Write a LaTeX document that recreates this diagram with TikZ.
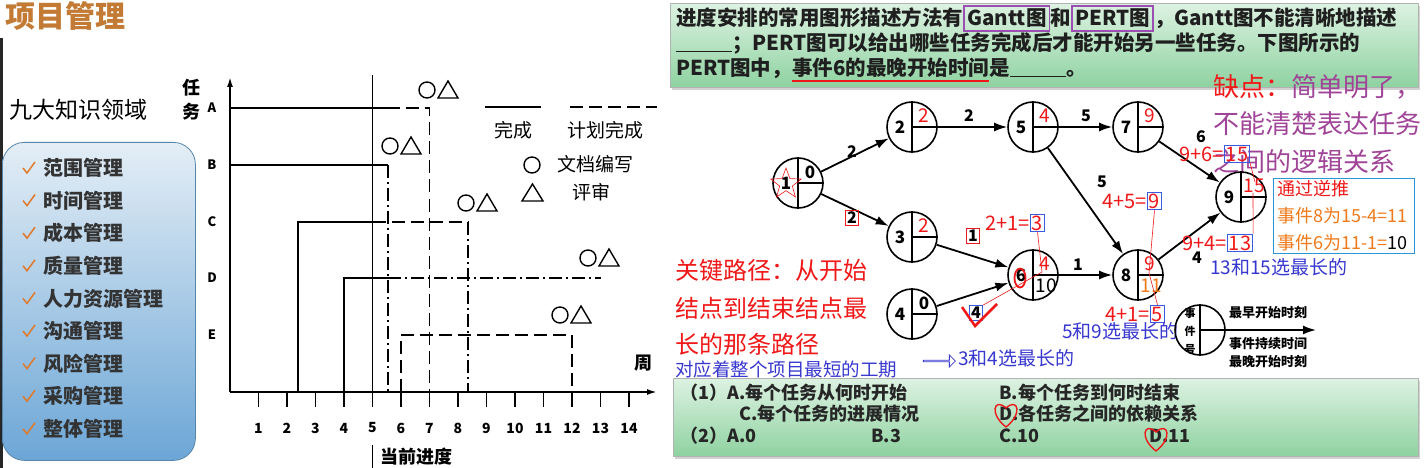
\documentclass[tikz,border=0pt]{standalone}
\usepackage{fontspec}
\setmainfont{Noto Sans CJK SC}
\usetikzlibrary{positioning,arrows.meta,shapes,calc,shadows}
\definecolor{titleorange}{HTML}{C27A34}
\definecolor{listblueT}{HTML}{E4EEF6}
\definecolor{listblueB}{HTML}{6CA6D6}
\definecolor{tickorange}{HTML}{E0792A}
\definecolor{qgreenT}{HTML}{DDF2E2}
\definecolor{qgreenB}{HTML}{8ED2A0}
\definecolor{qpurple}{HTML}{9B4FB0}
\definecolor{markred}{HTML}{F01818}
\definecolor{notepurple}{HTML}{A04498}
\definecolor{noteblue}{HTML}{3838D0}
\definecolor{boxblue}{HTML}{3A5AE0}
\definecolor{backblue}{HTML}{2A96DA}
\definecolor{noteorange}{HTML}{F07A1A}
\tikzstyle{listbox}=[rectangle, rounded corners=22pt, draw=listblueB!80!black, line width=0.8pt,
                     top color=listblueT, bottom color=listblueB]
\tikzstyle{item}=[font=\fontsize{20}{20}\selectfont\bfseries, text=black!80, inner sep=0pt, anchor=west]
\tikzstyle{tickline}=[tickorange, line width=1.5pt]
\tikzstyle{gtxt}=[font=\fontsize{18}{18}\selectfont\bfseries, inner sep=0pt]
\tikzstyle{gabc}=[font=\fontsize{13}{13}\selectfont\bfseries, inner sep=0pt]
\tikzstyle{gnum}=[font=\fontsize{14}{14}\selectfont\bfseries, inner sep=0pt]
\tikzstyle{done}=[line width=1.8pt]
\tikzstyle{plan}=[line width=1.8pt, dash pattern=on 13pt off 6pt]
\tikzstyle{plandot}=[line width=1.8pt, dash pattern=on 13pt off 4pt on 2pt off 4pt]
\tikzstyle{qbox}=[rectangle, draw=gray!60, line width=0.8pt, top color=qgreenT, bottom color=qgreenB,
                  drop shadow={opacity=0.35, shadow xshift=2pt, shadow yshift=-3pt}, inner sep=0pt]
\tikzstyle{qtext}=[font=\fontsize{20.5}{20.5}\selectfont\bfseries, text=black!88, inner sep=0pt]
\tikzstyle{qmark}=[draw=qpurple, line width=1.8pt, inner sep=3pt]
\tikzstyle{evt}=[circle, draw=black, line width=1.6pt, minimum size=50pt, inner sep=0pt]
\tikzstyle{evtnum}=[font=\fontsize{17}{17}\selectfont\bfseries, inner sep=0pt]
\tikzstyle{rednum}=[font=\fontsize{19}{19}\selectfont, text=markred, inner sep=0pt]
\tikzstyle{wline}=[-{Latex[length=13pt,width=9pt]}, line width=1.8pt]
\tikzstyle{wlabel}=[font=\fontsize{16}{16}\selectfont\bfseries, inner sep=1pt]
\tikzstyle{redbox}=[draw=markred, line width=0.8pt, inner sep=1.5pt]
\tikzstyle{bluebox}=[draw=boxblue, line width=0.9pt, inner sep=1.5pt]
\tikzstyle{rednote}=[text=markred, font=\fontsize{20}{20}\selectfont, inner sep=0pt]
\tikzstyle{bluenote}=[text=noteblue, font=\fontsize{19}{19}\selectfont, inner sep=0pt, anchor=west]
\tikzstyle{keynote}=[text=markred, font=\fontsize{24}{24}\selectfont, inner sep=0pt, anchor=west]
\tikzstyle{backnote}=[text=noteorange, font=\fontsize{18}{18}\selectfont, inner sep=0pt, anchor=west]
\tikzstyle{legtxt}=[font=\fontsize{13}{13}\selectfont\bfseries, inner sep=0pt]
\tikzstyle{redlink}=[markred, line width=0.6pt]
\tikzstyle{opt}=[font=\fontsize{18}{18}\selectfont\bfseries, text=black!85, inner sep=0pt, anchor=west]
\tikzstyle{heartline}=[markred, line width=1.4pt]
\tikzset{pics/docrev/.style={code={
  \draw[line width=1.4pt] (-10,0) circle (8pt);
  \draw[line width=1.4pt] (1,8) -- (21,8) -- (11,-9) -- cycle;}}}

\begin{document}
\begin{tikzpicture}[x=1pt,y=-1pt]
\useasboundingbox[fill=white] (0,0) rectangle (1425,468);

% left: knowledge areas
\fill[black!85] (0,38) rectangle (3,468);
\node (TITLE) [anchor=west, inner sep=0pt, text=titleorange, font=\fontsize{30}{30}\selectfont\bfseries] at (5,16) {项目管理};
\node (NINE) [anchor=west, inner sep=0pt, font=\fontsize{23}{23}\selectfont] at (9,110) {九大知识领域};
\node (LIST) [listbox, anchor=north west, minimum width=193pt, minimum height=318pt] at (2,142) {};
\foreach \area [count=\i] in {范围管理,时间管理,成本管理,质量管理,人力资源管理,沟通管理,风险管理,采购管理,整体管理} {
  \node (K\i) [item] at (43,{135.4+32.6*\i}) {\area};
  \draw[tickline] ($(K\i.west)+(-20,0)$) -- ++(4,5) -- ++(8,-11);
}

% gantt chart
\coordinate (O) at (230,392);
\draw[done, -{Latex[length=10pt,width=6pt]}] (O) -- (230,77);
\draw[done, -{Latex[length=10pt,width=6pt]}] (O) -- (657,392);
\foreach \k in {1,...,14} {
  \draw[done] ({230+28.5*\k},392) -- ++(0,15);
  \node (T\k) [gnum] at ({230+28.5*\k},428) {\k};
}
\node (REN) [gtxt] at (191,88) {任};
\node (WU) [gtxt] at (191,112) {务};
\foreach \t/\ry in {A/108,B/165,C/222,D/278,E/335}
  \node (R\t) [gabc] at (212,\ry) {\t};
\node (ZHOU) [gtxt] at (643,363) {周};
\draw[done] (372.5,75) -- (372.5,407);
\draw[done] (372.5,445) -- (372.5,468);
\node (NOW) [gtxt, anchor=west] at (380,457) {当前进度};

% tasks A-E
\draw[done] (230,108) -- (387,108);
\draw[plan] (387,108) -- (429.5,108) -- (429.5,392);
\draw[done] (230,165) -- (388,165);
\draw[plandot] (388,165) -- (388,392);
\draw[done] (298,392) -- (298,222) -- (372.5,222);
\draw[plan] (372.5,222) -- (468,222);
\draw[plandot] (468,222) -- (468,392);
\draw[done] (344,392) -- (344,278) -- (388,278);
\draw[plandot] (388,278) -- (601,278);
\draw[plan] (401,392) -- (401,335) -- (572,335) -- (572,392);
\pic at (437,90) {docrev};
\pic at (400,146) {docrev};
\pic at (476,203) {docrev};
\pic at (598,258) {docrev};
\pic at (570,315) {docrev};

% legend of gantt
\draw[done] (485,107) -- (541,107);
\draw[plan] (570,107) -- (657,107);
\node (DONE) [gtxt, font=\fontsize{19}{19}\selectfont] at (513,130) {完成};
\node (PLAN) [gtxt, font=\fontsize{19}{19}\selectfont] at (605,130) {计划完成};
\draw[line width=1.4pt] (532,165) circle (8pt);
\draw[line width=1.4pt] (522,201) -- (543,201) -- (532.5,184) -- cycle;
\node (DOC) [gtxt, font=\fontsize{19}{19}\selectfont, anchor=west] at (557,164) {文档编写};
\node (REV) [gtxt, font=\fontsize{19}{19}\selectfont, anchor=west] at (572,192) {评审};

% question
\node (QTOP) [qbox, anchor=north west, minimum width=748pt, minimum height=84pt] at (670,3) {};
\node (L1a) [qtext, anchor=base west] at (676,26) {进度安排的常用图形描述方法有};
\node (L1b) [qtext, qmark, anchor=base west] at (L1a.base east) {Gantt图};
\node (L1c) [qtext, anchor=base west] at (L1b.base east) {和};
\node (L1d) [qtext, qmark, anchor=base west] at (L1c.base east) {PERT图};
\node (L1e) [qtext, anchor=base west] at (L1d.base east) {，Gantt图不能清晰地描述};
\node (L2) [qtext, anchor=base west] at (676,51) {\rule[-1pt]{56pt}{1.2pt}；PERT图可以给出哪些任务完成后才能开始另一些任务。下图所示的};
\node (L3a) [qtext, anchor=base west] at (676,76) {PERT图中，};
\node (L3b) [qtext, anchor=base west] at (L3a.base east) {事件6的最晚开始时间};
\node (L3c) [qtext, anchor=base west] at (L3b.base east) {是\rule[-1pt]{56pt}{1.2pt}。};
\draw[markred, line width=2.2pt] ($(L3b.base west)+(0,5)$) -- ($(L3b.base east)+(0,5)$);

\node (CON1) [anchor=west, inner sep=0pt, font=\fontsize{26}{26}\selectfont] at (1213,87) {\textcolor{markred}{缺点：}\textcolor{notepurple}{简单明了，}};
\node (CON2) [anchor=west, inner sep=0pt, text=notepurple, font=\fontsize{26}{26}\selectfont] at (1213,124) {不能清楚表达任务};
\node (CON3) [anchor=west, inner sep=0pt, text=notepurple, font=\fontsize{26}{26}\selectfont] at (1213,162) {之间的逻辑关系};

% PERT events
\foreach \n/\px/\py in {1/798/183, 2/912/127, 3/912/237, 4/912/314, 5/1033/127, 6/1033/275, 7/1138/127, 8/1138/275, 9/1241/197} {
  \node (E\n) [evt] at (\px,\py) {};
  \draw[line width=1.6pt] (E\n.north) -- (E\n.south);
  \draw[line width=1.6pt] (E\n.center) -- (E\n.east);
  \node [evtnum] at ($(E\n)+(-12,0)$) {\n};
}
\node [evtnum] at ($(E1)+(12,-11)$) {0};
\node [evtnum] at ($(E4)+(12,-11)$) {0};
\node [rednum] at ($(E2)+(12,-11)$) {2};
\node [rednum] at ($(E3)+(12,-11)$) {2};
\node [rednum] at ($(E5)+(12,-11)$) {4};
\node [rednum] at ($(E6)+(12,-11)$) {4};
\node [rednum] at ($(E7)+(12,-11)$) {9};
\node [rednum] at ($(E8)+(12,-11)$) {9};
\node [rednum] at ($(E9)+(13,-11)$) {15};
\node [rednum, text=black] at ($(E6)+(13,11)$) {10};
\node [rednum, text=noteorange] at ($(E8)+(13,11)$) {11};
\node (STAR) [star, star points=5, star point ratio=2.4, draw=markred, line width=0.6pt, minimum size=32pt, inner sep=0pt] at ($(E1)+(-12,1)$) {};
\node (RING6) [ellipse, draw=markred, line width=1.8pt, minimum width=11pt, minimum height=19pt, inner sep=0pt] at ($(E6)+(-13,3)$) {};

\draw[wline] (E1) -- (E2);
\draw[wline] (E1) -- (E3);
\draw[wline] (E2) -- (E5);
\draw[wline] (E5) -- (E7);
\draw[wline] (E5) -- (E8);
\draw[wline] (E3) -- (E6);
\draw[wline] (E4) -- (E6);
\draw[wline] (E6) -- (E8);
\draw[wline] (E7) -- (E9);
\draw[wline] (E8) -- (E9);
\node (W12) [wlabel] at (852,152) {2};
\node (W13) [wlabel, redbox] at (852,218) {2};
\node (W25) [wlabel] at (969,116) {2};
\node (W57) [wlabel] at (1086,116) {5};
\node (W58) [wlabel] at (1102,182) {5};
\node (W36) [wlabel, redbox] at (973,236) {1};
\node (W46) [wlabel, bluebox] at (976,313) {4};
\node (W68) [wlabel] at (1078,265) {1};
\node (W79) [wlabel] at (1201,137) {6};
\node (W89) [wlabel] at (1197,258) {4};
\draw[markred, line width=2.5pt] (962,307) -- (975,326) -- (997,304);

% forward and backward sums
\node (S3) [rednote, anchor=east] at (1030,223) {2+1=};
\node (B3) [rednote, bluebox, anchor=west] at (S3.east) {3};
\draw[redlink] (B3.south) -- ($(E6)+(9,-3)$) -- (W46.north east);
\node (S9) [rednote, anchor=east] at (1147,201) {4+5=};
\node (B9) [rednote, bluebox, anchor=west] at (S9.east) {9};
\node (S5) [rednote, anchor=east] at (1150,314) {4+1=};
\node (B5) [rednote, bluebox, anchor=west] at (S5.east) {5};
\draw[redlink] (B9.south) -- ($(E8)+(11,-2)$) -- (B5.north);
\node (S15) [rednote, anchor=east] at (1224,154) {9+6=};
\node (B15) [rednote, bluebox, anchor=west] at (S15.east) {15};
\node (S13) [rednote, anchor=east] at (1227,243) {9+4=};
\node (B13) [rednote, bluebox, anchor=west] at (S13.east) {13};
\draw[redlink] (B15.south east) -- ($(E9)+(14,-15)$);
\draw[redlink] ($(E9)+(12,-4)$) -- (B13.north east);
\node (MAX15) [bluenote] at (1210,267) {13和15选最长的};
\node (MAX9) [bluenote] at (1062,331) {5和9选最长的};
\node (MAX4) [bluenote] at (958,358) {3和4选最长的};

\node (BACK) [draw=backblue, line width=1pt, minimum width=141pt, minimum height=75pt, anchor=north west] at (1273,178) {};
\node (BK1) [backnote, text=markred] at (1277,189) {通过逆推};
\node (BK2) [backnote] at (1277,216) {事件8为15-4=11};
\node (BK3) [backnote] at (1277,243) {事件6为11-1=\textcolor{black}{10}};

\node (KEY1) [keynote] at (675,270) {关键路径：从开始};
\node (KEY2) [keynote] at (675,308) {结点到结束结点最};
\node (KEY3) [keynote] at (675,344) {长的那条路径};
\node (SHORT) [bluenote, font=\fontsize{18.5}{18.5}\selectfont] at (675,369) {对应着整个项目最短的工期};
\node (HOLLOW) [single arrow, draw=noteblue, line width=0.8pt, minimum height=32pt, minimum width=12pt, single arrow head extend=3pt, inner sep=0pt] at (939,361) {};

% legend of event
\node (LEG) [evt] at (1200,330) {};
\draw[line width=1.6pt] (LEG.north) -- (LEG.south);
\coordinate (LEGEND) at (1316,330);
\draw[wline] (LEG.center) -- (LEGEND);
\node [legtxt, font=\fontsize{11}{11}\selectfont\bfseries] at (1190,313) {事};
\node [legtxt, font=\fontsize{11}{11}\selectfont\bfseries] at (1190,331) {件};
\node [legtxt, font=\fontsize{11}{11}\selectfont\bfseries] at (1190,349) {号};
\node (EARLY) [legtxt] at (1268,313) {最早开始时刻};
\node (DUR) [legtxt] at (1268,344) {事件持续时间};
\node (LATE) [legtxt] at (1268,362) {最晚开始时刻};

% options
\node (QBOT) [qbox, anchor=north west, minimum width=745pt, minimum height=78pt] at (673,378) {};
\node (P1) [opt] at (680,393) {（1）A.每个任务从何时开始};
\node (P1B) [opt] at (999,393) {B.每个任务到何时结束};
\node (P1C) [opt] at (739,414) {C.每个任务的进展情况};
\node (P1D) [opt] at (999,414) {D.各任务之间的依赖关系};
\node (P2) [opt] at (680,436) {（2）A.0};
\node (P2B) [opt] at (871,436) {B.3};
\node (P2C) [opt] at (999,436) {C.10};
\node (P2D) [opt] at (1149,436) {D.11};
\draw[heartline, shift={(1006,414)}] (0,13) .. controls (-17,0) and (-12,-17) .. (0,-6) .. controls (12,-17) and (17,0) .. (0,13);
\draw[heartline, shift={(1156,438)}] (0,13) .. controls (-17,0) and (-12,-17) .. (0,-6) .. controls (12,-17) and (17,0) .. (0,13);
\end{tikzpicture}
\end{document}
